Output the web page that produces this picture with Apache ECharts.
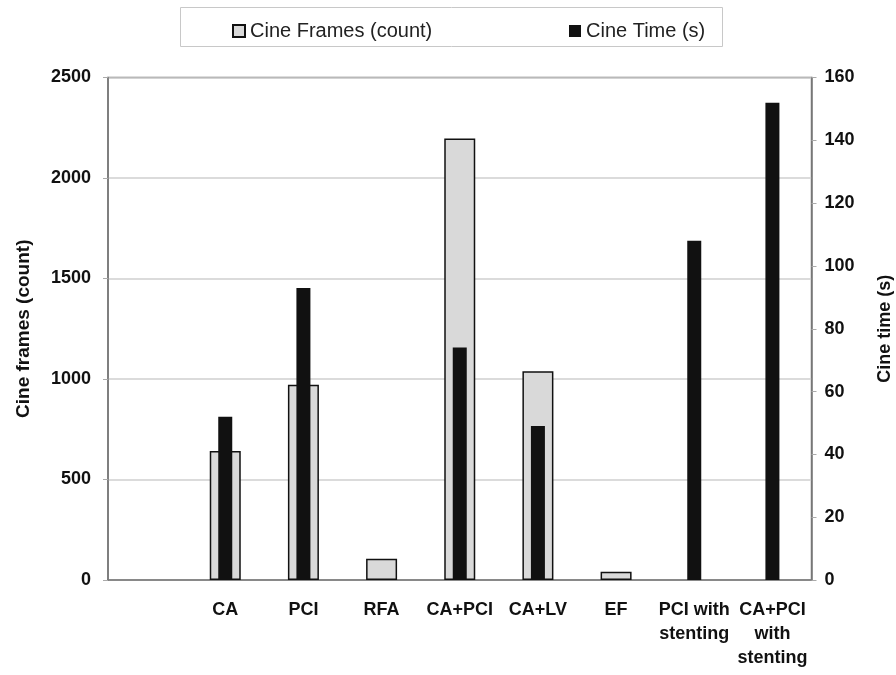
<!DOCTYPE html>
<html>
<head>
<meta charset="utf-8">
<script src="https://cdn.jsdelivr.net/npm/echarts@6/dist/echarts.min.js"></script>
<style>
html,body{margin:0;padding:0;background:#fff;}
#chart{width:896px;height:675px;}
</style>
</head>
<body>
<div id="chart"></div>
<script>
var categories = ['', 'CA', 'PCI', 'RFA', 'CA+PCI', 'CA+LV', 'EF', 'PCI with\nstenting', 'CA+PCI\nwith\nstenting'];
var cineFrames = [null, 642, 972, 106, 2197, 1039, 41, null, null];
var cineTime = [null, 52, 93, null, 74, 49, null, 108, 152];
var leftTicks = [0, 500, 1000, 1500, 2000, 2500];
var rightTicks = [0, 20, 40, 60, 80, 100, 120, 140, 160];

var FONT = '"Liberation Sans", Arial, sans-serif';
var chart = echarts.init(document.getElementById('chart'), null, {renderer: 'canvas'});
var axisLabelStyle = {color: '#111', fontFamily: FONT, fontWeight: 'bold', fontSize: 18};
chart.setOption({
  animation: false,
  backgroundColor: '#fff',
  graphic: [{
    type: 'rect', left: 180, top: 7, z: -1,
    shape: {width: 542, height: 39},
    style: {fill: '#fff', stroke: '#c8c8c8', lineWidth: 1}
  }],
  legend: [{
    data: ['Cine Frames (count)'], left: 227, top: 16,
    icon: 'rect', itemWidth: 12, itemHeight: 12, itemGap: 5,
    textStyle: {fontFamily: FONT, fontSize: 20, color: '#222'}
  }, {
    data: ['Cine Time (s)'], left: 564, top: 16,
    icon: 'rect', itemWidth: 12, itemHeight: 12, itemGap: 5,
    textStyle: {fontFamily: FONT, fontSize: 20, color: '#222'}
  }],
  grid: {left: 108, right: 896 - 811.5, top: 77.5, bottom: 675 - 580, containLabel: false,
    outerBoundsMode: 'none',
    show: true, borderColor: '#777', borderWidth: 1.5},
  xAxis: [{
    type: 'category', data: categories, position: 'bottom',
    axisLine: {lineStyle: {color: '#777', width: 1.5}},
    axisTick: {show: false},
    axisLabel: {color: '#111', fontFamily: FONT, fontWeight: 'bold', fontSize: 18, margin: 18, lineHeight: 24, interval: 0},
    splitLine: {show: false}
  }, {
    type: 'category', data: categories, show: false
  }],
  yAxis: [{
    type: 'value', min: 0, max: 2500, interval: 500,
    name: 'Cine frames (count)', nameLocation: 'middle', nameRotate: 90, nameGap: 75,
    nameTextStyle: {color: '#111', fontFamily: FONT, fontWeight: 'bold', fontSize: 19},
    axisLine: {show: true, lineStyle: {color: '#777', width: 1.5}},
    axisTick: {show: true, length: 5, lineStyle: {color: '#aaa'}},
    axisLabel: Object.assign({margin: 17, formatter: function (v) { return leftTicks.indexOf(v) >= 0 ? String(v) : ''; }}, axisLabelStyle),
    splitLine: {show: true, lineStyle: {color: '#cfcfcf', width: 1.5}}
  }, {
    type: 'value', min: 0, max: 160, interval: 20, position: 'right',
    name: 'Cine time (s)', nameLocation: 'middle', nameRotate: 90, nameGap: 65,
    nameTextStyle: {color: '#111', fontFamily: FONT, fontWeight: 'bold', fontSize: 18},
    axisLine: {show: true, lineStyle: {color: '#777', width: 1.5}},
    axisTick: {show: true, length: 5, lineStyle: {color: '#aaa'}},
    axisLabel: Object.assign({margin: 13, formatter: function (v) { return rightTicks.indexOf(v) >= 0 ? String(v) : ''; }}, axisLabelStyle),
    splitLine: {show: false}
  }],
  series: [{
    name: 'Cine Frames (count)', type: 'bar', xAxisIndex: 0, yAxisIndex: 0,
    data: cineFrames, barWidth: 31,
    itemStyle: {color: '#d9d9d9', borderColor: '#111', borderWidth: 1.5}
  }, {
    name: 'Cine Time (s)', type: 'bar', xAxisIndex: 1, yAxisIndex: 1,
    data: cineTime, barWidth: 14,
    itemStyle: {color: '#111'}
  }]
});
</script>
</body>
</html>
